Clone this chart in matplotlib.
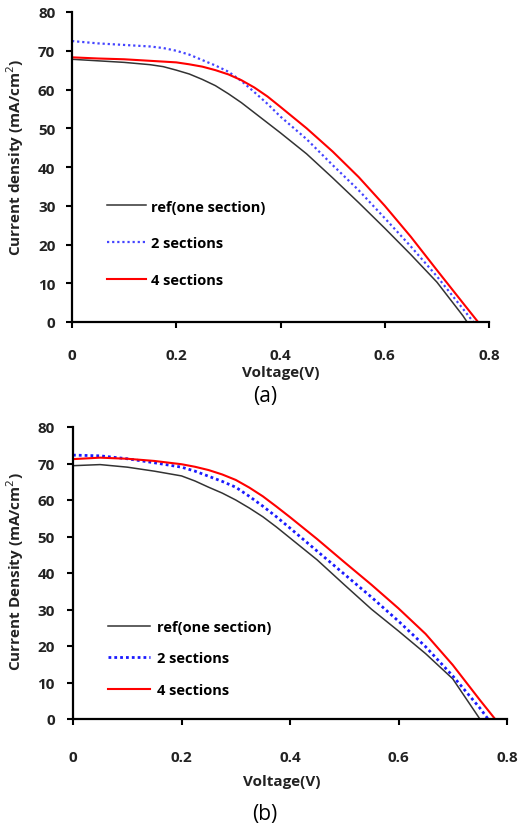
import matplotlib
matplotlib.use("Agg")
import matplotlib.pyplot as plt

plt.rcParams['font.family'] = ['Open Sans', 'DejaVu Sans']

# ---------------- Panel (a) data ----------------
va = [0, 0.05, 0.1, 0.15, 0.175, 0.2, 0.225, 0.25, 0.275, 0.3, 0.325, 0.35, 0.375,
      0.4, 0.45, 0.5, 0.55, 0.6, 0.65, 0.7, 0.75]
a_ref_v = va + [0.758]
a_ref_j = [67.8, 67.4, 67.0, 66.4, 65.9, 65.0, 64.0, 62.6, 61.0, 58.9, 56.6, 54.0, 51.4,
           48.8, 43.4, 37.2, 30.8, 24.2, 17.4, 10.3, 1.6, 0.0]
a_two_v = va + [0.770]
a_two_j = [72.5, 71.9, 71.5, 71.1, 70.7, 70.0, 69.0, 67.6, 66.2, 64.6, 62.2, 59.3, 56.3,
           53.0, 47.2, 40.5, 34.0, 26.8, 19.5, 11.8, 3.4, 0.0]
a_four_v = va + [0.779]
a_four_j = [68.3, 68.0, 67.8, 67.4, 67.2, 67.0, 66.5, 65.9, 65.0, 63.9, 62.4, 60.5, 58.2,
            55.5, 50.0, 44.0, 37.4, 30.0, 22.0, 13.4, 4.9, 0.0]

# ---------------- Panel (b) data ----------------
vb = [0, 0.05, 0.1, 0.15, 0.2, 0.225, 0.25, 0.275, 0.3, 0.325, 0.35, 0.375,
      0.4, 0.45, 0.5, 0.55, 0.6, 0.65, 0.7]
b_ref_v = vb + [0.750]
b_ref_j = [69.4, 69.7, 69.0, 67.9, 66.6, 65.2, 63.5, 61.9, 60.0, 57.8, 55.4, 52.6,
           49.6, 43.6, 36.8, 30.1, 24.1, 17.9, 11.0, 0.0]
b_two_v = vb + [0.75, 0.765]
b_two_j = [72.3, 72.1, 71.3, 70.2, 69.0, 67.9, 66.5, 65.1, 63.5, 61.0, 58.3, 55.4,
           52.3, 46.0, 39.7, 33.4, 26.8, 19.8, 11.8, 3.0, 0.0]
b_four_v = vb + [0.75, 0.778]
b_four_j = [71.2, 71.6, 71.3, 70.7, 69.8, 69.1, 68.2, 67.0, 65.5, 63.4, 61.0, 58.2,
            55.3, 49.3, 43.0, 36.8, 30.3, 23.3, 14.8, 5.2, 0.0]

labels = ['ref(one section)', '2 sections', '4 sections']
xticks = [0, 0.2, 0.4, 0.6, 0.8]
xticklabels = ['0', '0.2', '0.4', '0.6', '0.8']
yticks = [0, 10, 20, 30, 40, 50, 60, 70, 80]

fig = plt.figure(figsize=(5.21, 8.28), dpi=100)
W, H = 521, 828

def ax_at(l, r, t, b):
    return fig.add_axes([l / W, 1 - b / H, (r - l) / W, (b - t) / H])

axa = ax_at(72, 489, 13, 323)
axb = ax_at(73, 507, 428, 720)

def style(ax, xpad, ypad):
    ax.set_xlim(0, 0.8)
    ax.set_ylim(0, 80)
    ax.set_xticks(xticks)
    ax.set_xticklabels(xticklabels)
    ax.set_yticks(yticks)
    for s in ['top', 'right']:
        ax.spines[s].set_visible(False)
    for s in ['left', 'bottom']:
        ax.spines[s].set_linewidth(1.6)
        ax.spines[s].set_color('black')
    ax.tick_params(axis='both', direction='out', length=4, width=1.5, labelsize=11)
    ax.tick_params(axis='x', pad=xpad)
    ax.tick_params(axis='y', pad=ypad)
    for lab in ax.get_xticklabels() + ax.get_yticklabels():
        lab.set_fontweight('bold')
        lab.set_color('#222222')

# Panel (a)
axa.plot(a_ref_v, a_ref_j, color='#333333', lw=1.1, label=labels[0])
axa.plot(a_two_v, a_two_j, color='#4444ff', lw=1.6, ls=(0, (1, 1.3)), label=labels[1])
axa.plot(a_four_v, a_four_j, color='#ff0000', lw=1.5, label=labels[2])
style(axa, 15, 8)
axa.legend(loc='upper left', bbox_to_anchor=(0.084, 0.395), frameon=False,
           borderpad=0, borderaxespad=0, handlelength=2.7, handletextpad=0.3,
           labelspacing=1.55, prop={'weight': 'bold', 'size': 10.5})

# Panel (b)
axb.plot(b_ref_v, b_ref_j, color='#333333', lw=1.1, label=labels[0])
axb.plot(b_two_v, b_two_j, color='#1a1aff', lw=2.0, ls=(0, (1, 1.1)), label=labels[1])
axb.plot(b_four_v, b_four_j, color='#ff0000', lw=1.5, label=labels[2])
style(axb, 18, 9)
axb.legend(loc='upper left', bbox_to_anchor=(0.08, 0.34), frameon=False,
           borderpad=0, borderaxespad=0, handlelength=2.9, handletextpad=0.5,
           labelspacing=1.2, prop={'weight': 'bold', 'size': 10.5})

# Axis labels
fig.text(15 / W, 1 - 157 / H, 'Current density (mA/cm$^2$)', rotation=90,
         ha='center', va='center', fontsize=11, fontweight='bold', color='#222222')
fig.text(15 / W, 1 - 572 / H, 'Current Density (mA/cm$^2$)', rotation=90,
         ha='center', va='center', fontsize=11, fontweight='bold', color='#222222')
fig.text(281 / W, 1 - 373 / H, 'Voltage(V)', ha='center', va='center',
         fontsize=11, fontweight='bold', color='#222222')
fig.text(282 / W, 1 - 782 / H, 'Voltage(V)', ha='center', va='center',
         fontsize=11, fontweight='bold', color='#222222')
fig.text(265 / W, 1 - 397 / H, '(a)', ha='center', va='center', fontsize=15, color='black')
fig.text(265 / W, 1 - 815 / H, '(b)', ha='center', va='center', fontsize=15, color='black')

fig.savefig('out.png', dpi=100)
